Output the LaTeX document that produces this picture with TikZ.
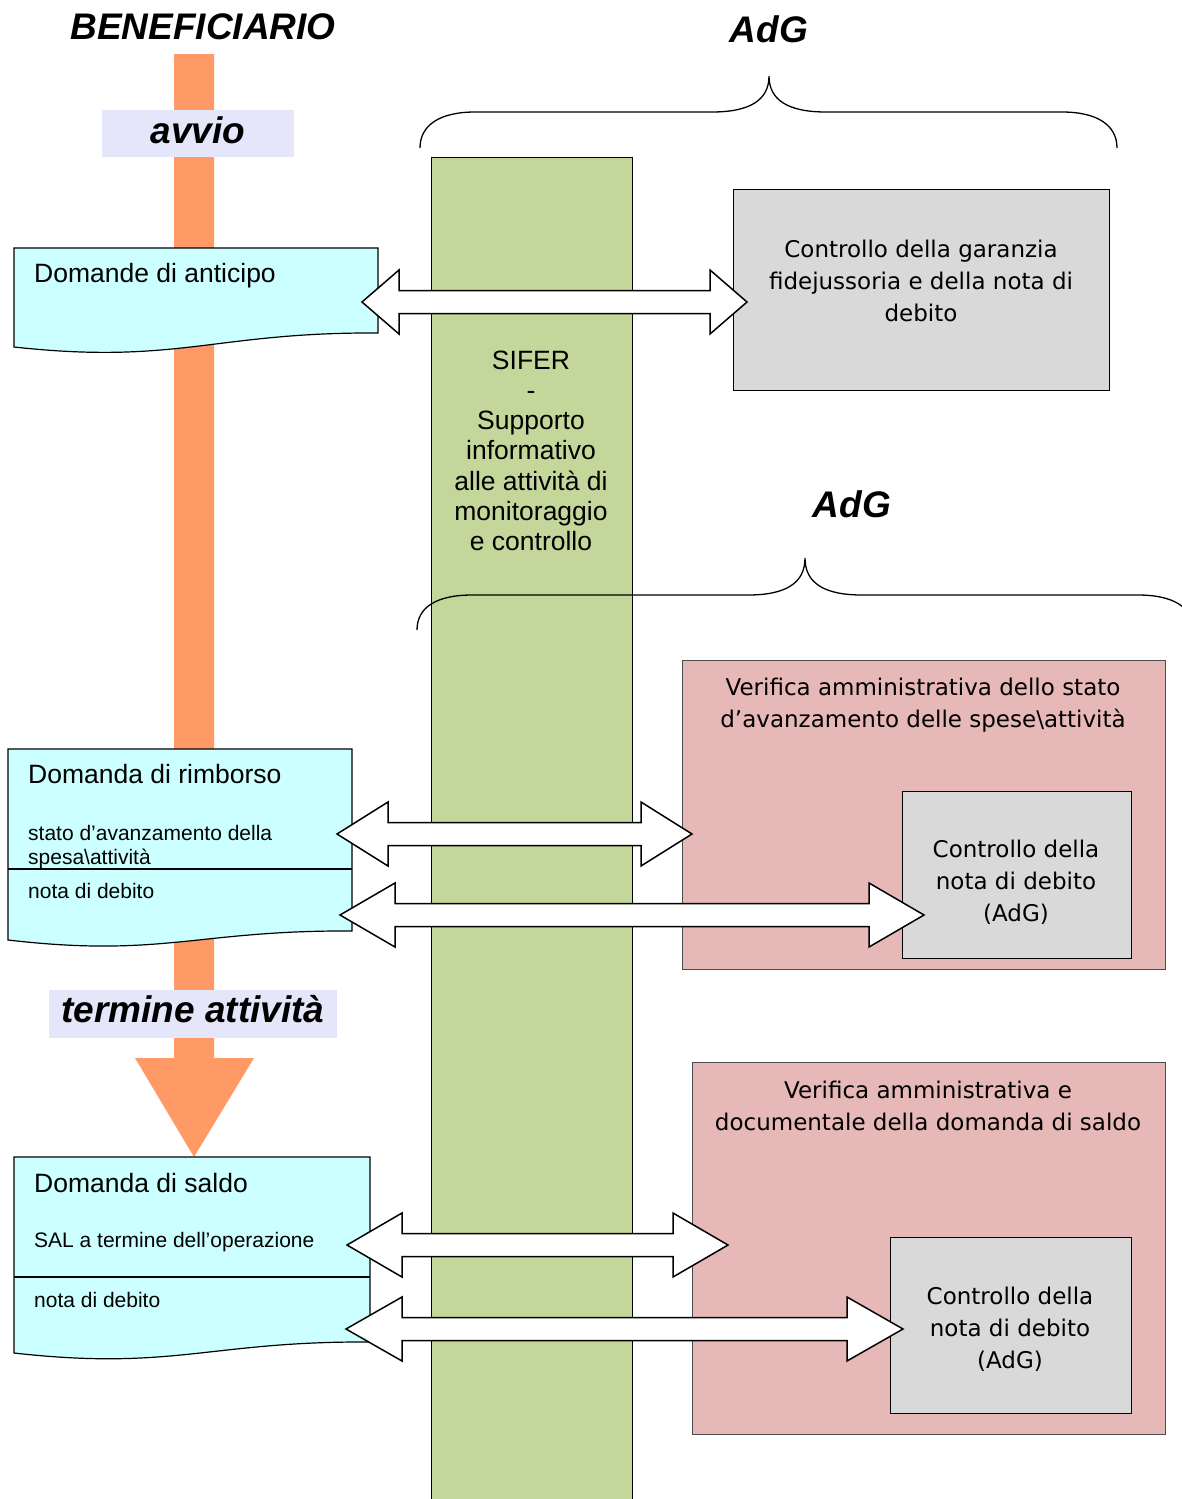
\documentclass[tikz,border=0pt]{standalone}
\usepackage{fontspec}
\setmainfont{Liberation Sans}
\newfontfamily\tahomafont{DejaVu Sans}
\usepackage{tikz}
\usetikzlibrary{positioning,calc}
\definecolor{barOrange}{RGB}{255,153,102}
\definecolor{tagLilac}{RGB}{230,230,250}
\definecolor{docCyan}{RGB}{204,255,255}
\definecolor{siferGreen}{RGB}{196,215,155}
\definecolor{verPink}{RGB}{230,184,183}
\definecolor{ctrlGray}{RGB}{217,217,217}
\tikzset{headline/.style={font=\fontsize{37}{40}\selectfont\bfseries\itshape, inner sep=0pt, anchor=base}}
\tikzset{phasetag/.style={headline, fill=tagLilac, minimum width=#1}}
\tikzset{docbox/.style={draw, fill=docCyan, line width=1.2pt}}
\tikzset{doctext/.style={font=\fontsize{26.5}{30}\selectfont, inner sep=0pt, anchor=base west}}
\tikzset{docsmall/.style={font=\fontsize{21}{24}\selectfont, inner sep=0pt, anchor=base west}}
\tikzset{ctrlbox/.style={draw, fill=ctrlGray, line width=1pt, anchor=north west, inner sep=0pt}}
\tikzset{verbox/.style={draw=black!70, fill=verPink, line width=1pt, anchor=north west, inner sep=0pt}}
\tikzset{boxtext/.style={font=\tahomafont\fontsize{23}{32}\selectfont, align=center, inner sep=0pt, anchor=north}}
\tikzset{brace/.style={draw, line width=1.3pt}}
\tikzset{fatarr/.style={draw, fill=white, line width=1.5pt, line join=miter}}
% document sheet with a wavy bottom: x1, top, x2, right bottom, left bottom
\newcommand\docsheet[5]{%
  \draw[docbox] (#1,#5) -- (#1,#2) -- (#3,#2) -- (#3,#4)
    .. controls ({#3-0.45*(#3-#1)},{#4-1}) and ({#1+0.45*(#3-#1)},{#5+18}) .. (#1,#5) -- cycle;}
% white block arrow with two heads between two coordinates
\newcommand\fatarrow[3][55]{%
  \draw[fatarr] let \p1=(#2), \p2=(#3) in
    (\p1) -- ++(#1pt,32pt) -- ++(0pt,-20.5pt) -- (\x2-#1pt,\y1+11.5pt) -- ++(0pt,20.5pt)
    -- (\p2) -- ++(-#1pt,-32pt) -- ++(0pt,20.5pt) -- (\x1+#1pt,\y1-11.5pt) -- ++(0pt,-20.5pt) -- cycle;}
\begin{document}
\begin{tikzpicture}[x=1pt, y=-1pt]
\useasboundingbox (0,0) rectangle (1182,1499);
\clip (0,0) rectangle (1182,1499);

% beneficiario lane
\fill[barOrange] (174,54) -- (214,54) -- (214,1058) -- (254,1058) -- (194,1157)
  -- (135,1058) -- (174,1058) -- cycle;
\node[headline] (benef) at (203,39) {BENEFICIARIO};
\node[phasetag=192pt, text height=33pt, text depth=14pt] (avvio) at (198,143) {avvio};
\node[phasetag=288pt, text height=32pt, text depth=16pt] (termine) at (193,1022) {termine attività};

% domande
\docsheet{14}{248}{378}{333}{347}
\node[doctext] (antic) at (34,282) {Domande di anticipo};

\docsheet{8}{749}{352}{931}{940}
\draw[docbox] (8,869) -- (352,869);
\node[doctext] (rimb) at (28,783) {Domanda di rimborso};
\node[docsmall] (rimbsal) at (28,840) {stato d’avanzamento della};
\node[docsmall] (rimbsal2) at (28,864) {spesa\textbackslash attività};
\node[docsmall] (rimbnota) at (28,898) {nota di debito};

\docsheet{14}{1157}{370}{1342}{1353}
\draw[docbox] (14,1277) -- (370,1277);
\node[doctext] (saldo) at (34,1192) {Domanda di saldo};
\node[docsmall] (saldosal) at (34,1247) {SAL a termine dell’operazione};
\node[docsmall] (saldonota) at (34,1307) {nota di debito};

% sifer
\node[draw, fill=siferGreen, line width=1pt, anchor=north west, minimum width=201pt,
  minimum height=1360pt, inner sep=0pt] (sifer) at (431,157) {};
\node[align=center, font=\fontsize{26.5}{30.2}\selectfont, inner sep=0pt, anchor=north]
  (sifertxt) at (531,350.5) {SIFER\\-\\Supporto\\informativo\\alle attività di\\monitoraggio\\e controllo};

% AdG
\node[headline] (adg1) at (769,42) {AdG};
\draw[brace] (420,148) .. controls (420,125) and (440,112) .. (475,112) -- (712,112)
  .. controls (750,112) and (769,100) .. (769,76)
  .. controls (769,100) and (788,112) .. (826,112) -- (1062,112)
  .. controls (1097,112) and (1117,125) .. (1117,148);
\node[ctrlbox, minimum width=376pt, minimum height=201pt] (garanzia) at (733,189) {};
\node[boxtext] (garanziatxt) at (921,239.5) {Controllo della garanzia\\fidejussoria e della nota di\\debito};

\node[headline] (adg2) at (852,517) {AdG};
\draw[brace] (417,630) .. controls (417,607) and (437,595) .. (472,595) -- (748,595)
  .. controls (786,595) and (805,583) .. (805,558)
  .. controls (805,583) and (824,595) .. (862,595) -- (1138,595)
  .. controls (1173,595) and (1193,607) .. (1193,630);
\node[verbox, minimum width=483pt, minimum height=309pt] (verrimb) at (682,660) {};
\node[boxtext] (verrimbtxt) at (923,677.5) {Verifica amministrativa dello stato\\d’avanzamento delle spese\textbackslash attività};
\node[ctrlbox, minimum width=229pt, minimum height=167pt] (notarimb) at (902,791) {};
\node[boxtext] (notarimbtxt) at (1016,839.5) {Controllo della\\nota di debito\\(AdG)};

\node[verbox, minimum width=473pt, minimum height=372pt] (versaldo) at (692,1062) {};
\node[boxtext] (versaldotxt) at (928,1080.5) {Verifica amministrativa e\\documentale della domanda di saldo};
\node[ctrlbox, minimum width=241pt, minimum height=176pt] (notasaldo) at (890,1237) {};
\node[boxtext] (notasaldotxt) at (1010,1286.5) {Controllo della\\nota di debito\\(AdG)};

% scambi
\coordinate (ar1l) at (362,302);
\coordinate (ar1r) at (747,302);
\coordinate (ar2l) at (337,834);
\coordinate (ar2r) at (692,834);
\coordinate (ar3l) at (340,915);
\coordinate (ar3r) at (924,915);
\coordinate (ar4l) at (347,1245);
\coordinate (ar4r) at (728,1245);
\coordinate (ar5l) at (346,1329);
\coordinate (ar5r) at (903,1329);
\fatarrow[37]{ar1l}{ar1r}
\fatarrow[51]{ar2l}{ar2r}
\fatarrow[55]{ar3l}{ar3r}
\fatarrow[55]{ar4l}{ar4r}
\fatarrow[56]{ar5l}{ar5r}
\end{tikzpicture}
\end{document}
